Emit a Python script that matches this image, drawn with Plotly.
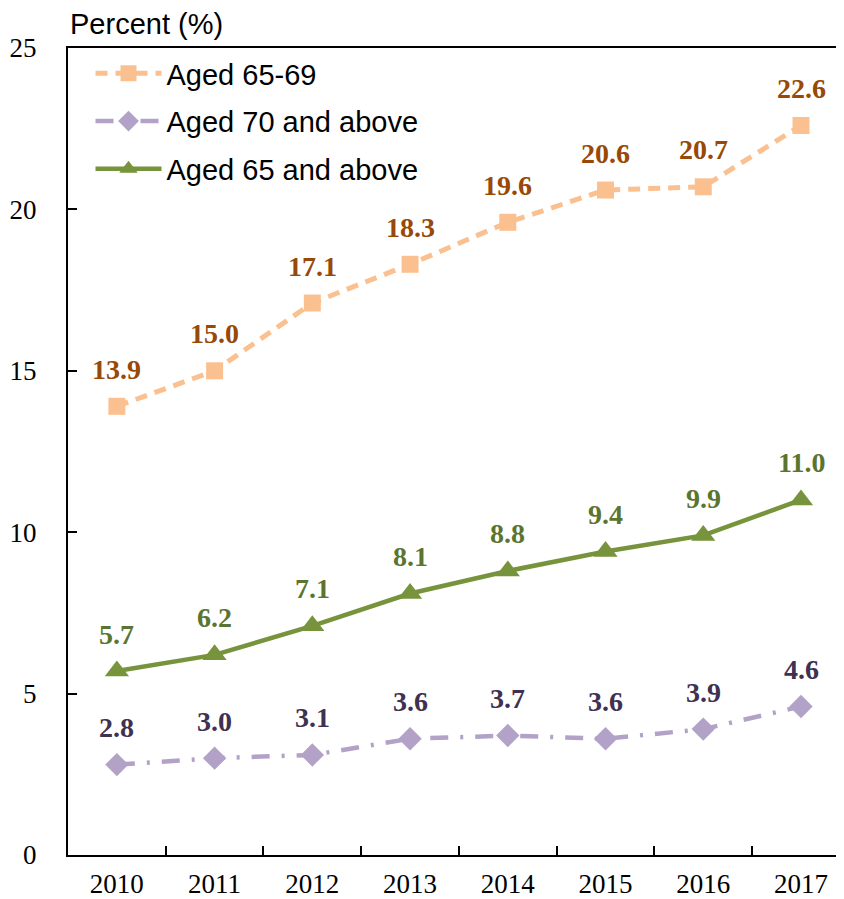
import plotly.graph_objects as go

years = ["2010", "2011", "2012", "2013", "2014", "2015", "2016", "2017"]
aged_65_69 = [13.9, 15.0, 17.1, 18.3, 19.6, 20.6, 20.7, 22.6]
aged_70_above = [2.8, 3.0, 3.1, 3.6, 3.7, 3.6, 3.9, 4.6]
aged_65_above = [5.7, 6.2, 7.1, 8.1, 8.8, 9.4, 9.9, 11.0]
y_ticks = [0, 5, 10, 15, 20, 25]

series = [
    ("Aged 65-69", aged_65_69, "#FAC090", "#984807", "square", "12px,8px", 17, 5),
    ("Aged 70 and above", aged_70_above, "#B3A2C7", "#3F3151", "diamond", "18px,12px,3px,12px", 18, 4.5),
    ("Aged 65 and above", aged_65_above, "#77933C", "#5B7530", "triangle-up", "solid", 21, 4.5),
]

x_idx = list(range(len(years)))
fig = go.Figure()
annotations = []
for i, (name, vals, col, lcol, sym, dash, msize, lw) in enumerate(series):
    fig.add_trace(go.Scatter(
        x=x_idx, y=vals, name=name, mode="lines+markers", legendgroup=f"g{i}",
        line=dict(color=col, width=lw, dash=dash),
        marker=dict(symbol=sym, size=msize, color=col),
    ))
    for xi, v in zip(x_idx, vals):
        annotations.append(dict(
            x=xi, y=v, text=f"<b>{v:.1f}</b>", showarrow=False,
            yshift=37, font=dict(family="Liberation Serif", size=28, color=lcol),
            xref="x", yref="y",
        ))

annotations.append(dict(
    x=0, y=1, xref="paper", yref="paper", xanchor="left", yanchor="middle",
    text="Percent (%)", showarrow=False, xshift=0, yshift=24,
    font=dict(family="Liberation Sans", size=29, color="black"),
))

# page has an 8px body margin: figure is offset by 8px, so shrink accordingly
fig.update_layout(
    width=836, height=891,
    margin=dict(l=60, r=0, t=40, b=44, autoexpand=False),
    plot_bgcolor="white", paper_bgcolor="white",
    showlegend=True,
    legend=dict(
        x=0.029, y=1.0, xanchor="left", yanchor="top",
        font=dict(family="Liberation Sans", size=29, color="black"),
        bgcolor="rgba(0,0,0,0)", itemwidth=66, tracegroupgap=7,
    ),
    annotations=annotations,
    xaxis=dict(
        range=[-0.5, 7.44], tickmode="array", tickvals=x_idx, ticktext=years,
        showline=True, linecolor="black", linewidth=2, mirror=True,
        showgrid=False, zeroline=False, ticks="", automargin=False,
        tickfont=dict(family="Liberation Serif", size=27, color="black"),
        ticklabelstandoff=4,
        minor=dict(tickvals=[i + 0.5 for i in x_idx[:-1]], ticks="inside",
                   ticklen=9, tickcolor="black", tickwidth=1.5),
    ),
    yaxis=dict(
        range=[0, 25], tickvals=y_ticks, automargin=False,
        showline=True, linecolor="black", linewidth=2,
        showgrid=False, zeroline=False, ticks="inside", ticklen=9,
        tickcolor="black", tickwidth=1.5,
        tickfont=dict(family="Liberation Serif", size=27, color="black"),
        ticklabelstandoff=24,
    ),
)

fig.write_html("out.html")
